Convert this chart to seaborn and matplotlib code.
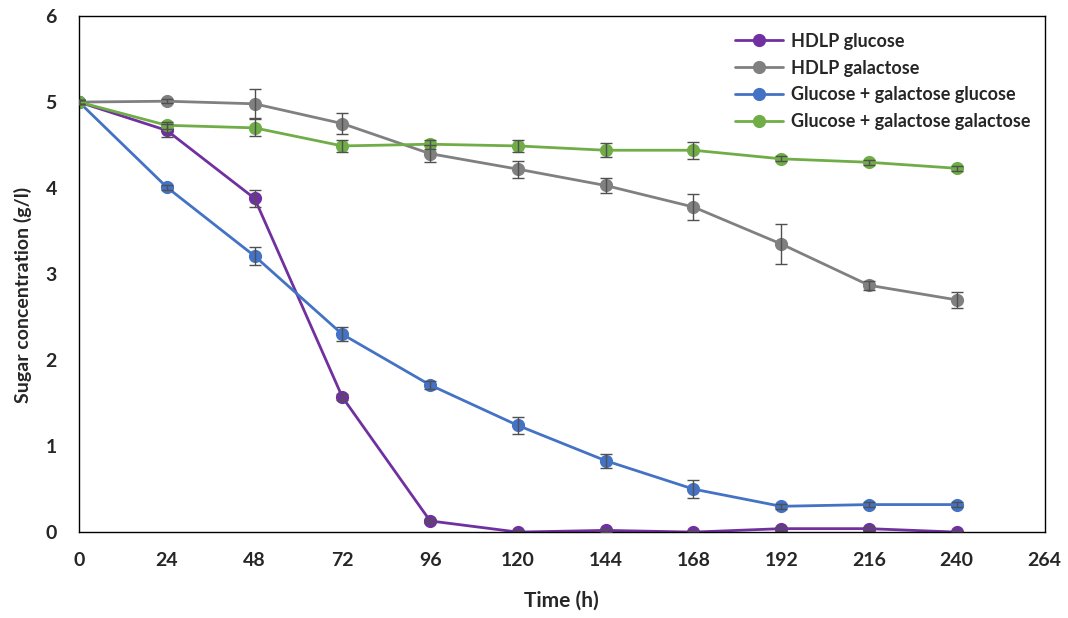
import numpy as np
import pandas as pd
import matplotlib
matplotlib.use("Agg")
import matplotlib.pyplot as plt
import seaborn as sns

# Sampling times (h)
time_h = [0, 24, 48, 72, 96, 120, 144, 168, 192, 216, 240]

series_names = [
    "HDLP glucose",
    "HDLP galactose",
    "Glucose + galactose glucose",
    "Glucose + galactose galactose",
]

# Mean sugar concentration (g/l)
hdlp_glucose = [5.00, 4.67, 3.88, 1.57, 0.13, 0.00, 0.02, 0.00, 0.04, 0.04, 0.00]
hdlp_galactose = [5.00, 5.01, 4.98, 4.75, 4.40, 4.22, 4.03, 3.78, 3.35, 2.87, 2.70]
mix_glucose = [5.00, 4.01, 3.21, 2.30, 1.71, 1.24, 0.83, 0.50, 0.30, 0.32, 0.32]
mix_galactose = [5.00, 4.73, 4.70, 4.49, 4.51, 4.49, 4.44, 4.44, 4.34, 4.30, 4.23]

# Standard deviations
hdlp_glucose_sd = [0.02, 0.08, 0.10, 0.03, 0.02, 0.02, 0.02, 0.01, 0.02, 0.02, 0.01]
hdlp_galactose_sd = [0.02, 0.02, 0.17, 0.12, 0.10, 0.10, 0.09, 0.15, 0.23, 0.05, 0.09]
mix_glucose_sd = [0.02, 0.03, 0.10, 0.08, 0.05, 0.10, 0.08, 0.10, 0.03, 0.03, 0.03]
mix_galactose_sd = [0.02, 0.04, 0.10, 0.07, 0.05, 0.07, 0.08, 0.10, 0.03, 0.03, 0.03]

colors = ["#7030A0", "#808080", "#4472C4", "#70AD47"]

means = [hdlp_glucose, hdlp_galactose, mix_glucose, mix_galactose]
sds = [hdlp_glucose_sd, hdlp_galactose_sd, mix_glucose_sd, mix_galactose_sd]

df = pd.concat(
    [
        pd.DataFrame({"Time": time_h, "Conc": m, "SD": s, "Series": name})
        for name, m, s in zip(series_names, means, sds)
    ],
    ignore_index=True,
)

sns.set_theme(style="white")
plt.rcParams["font.family"] = ["Lato", "DejaVu Sans"]
plt.rcParams["font.weight"] = "bold"

fig = plt.figure(figsize=(10.68, 6.18), dpi=100)
ax = fig.add_axes([0.074, 0.139, 0.904, 0.835])

sns.lineplot(
    data=df, x="Time", y="Conc", hue="Series", hue_order=series_names,
    palette=colors, marker="o", markersize=9.5, markeredgewidth=0,
    linewidth=2.0, ax=ax, errorbar=None, sort=False,
)

for name in series_names:
    sub = df[df["Series"] == name]
    ax.errorbar(sub["Time"], sub["Conc"], yerr=sub["SD"], fmt="none",
                ecolor="#505050", elinewidth=1.0, capsize=4.5, capthick=1.0,
                zorder=3)

ax.set_xlim(0, 264)
ax.set_ylim(0, 6)
ax.set_xticks(np.arange(0, 265, 24))
ax.set_yticks(np.arange(0, 7, 1))
ax.tick_params(axis="both", direction="in", length=6, width=1, color="black",
               labelsize=14)
ax.tick_params(axis="x", pad=14)
ax.tick_params(axis="y", pad=16)
for lab in ax.get_xticklabels() + ax.get_yticklabels():
    lab.set_fontweight("bold")

for sp in ax.spines.values():
    sp.set_color("black")
    sp.set_linewidth(1.0)

ax.set_xlabel("Time (h)", fontsize=15, fontweight="bold")
ax.set_ylabel("Sugar concentration (g/l)", fontsize=14, fontweight="bold")
ax.xaxis.set_label_coords(0.5, -0.113)
ax.yaxis.set_label_coords(-0.049, 0.46)

leg = ax.legend(
    loc="upper left", bbox_to_anchor=(0.679, 0.968), frameon=False,
    borderaxespad=0, borderpad=0, handlelength=2.7, labelspacing=0.55,
    handletextpad=0.4, prop={"weight": "bold", "size": 13},
)

fig.savefig("out.png", dpi=100, facecolor="white")
